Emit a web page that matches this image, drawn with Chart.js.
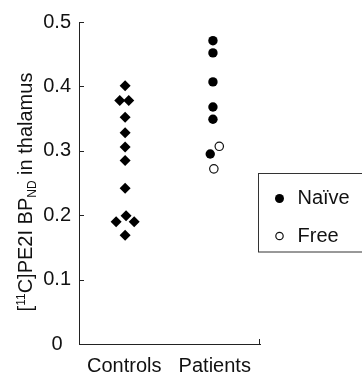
<!DOCTYPE html>
<html>
<head>
<meta charset="utf-8">
<script src="https://cdn.jsdelivr.net/npm/chart.js@4"></script>
<style>
  body { margin: 0; background: #fff; }
  #wrap { width: 362px; height: 375px; }
</style>
</head>
<body>
<div id="wrap"><canvas id="myChart"></canvas></div>
<script>
// groups on the x axis (centres at 0.5 and 1.5)
var categories = ['Controls', 'Patients'];
var categoryPos = [0.5, 1.5];

// controls, x is group position plus the small sideways offset seen in the figure
var controlsX = [0.51, 0.45, 0.55, 0.51, 0.51, 0.51, 0.51, 0.51, 0.52, 0.41, 0.61, 0.51];
var controlsY = [0.401, 0.378, 0.378, 0.352, 0.328, 0.306, 0.285, 0.242, 0.199, 0.19, 0.19, 0.169];

// patients, naive (filled) and free (open)
var naiveX = [1.48, 1.48, 1.48, 1.48, 1.48, 1.45];
var naiveY = [0.471, 0.452, 0.407, 0.368, 0.349, 0.295];
var freeX = [1.55, 1.49];
var freeY = [0.307, 0.272];

var yTicks = [0, 0.1, 0.2, 0.3, 0.4, 0.5];
var yTickLabels = ['0', '0.1', '0.2', '0.3', '0.4', '0.5'];

function pts(xs, ys) {
  return xs.map(function (x, i) { return { x: x, y: ys[i] }; });
}

var FONT = 'Liberation Sans';

// small ticks pointing into the plot, plus the tick at the end of the x axis
var innerTicks = {
  id: 'innerTicks',
  afterDraw: function (chart) {
    var ctx = chart.ctx, y = chart.scales.y, x = chart.scales.x;
    ctx.save();
    ctx.strokeStyle = '#222';
    ctx.lineWidth = 1;
    ctx.beginPath();
    y.ticks.forEach(function (t) {
      if (t.value === 0) return;
      var py = Math.round(y.getPixelForValue(t.value)) + 0.5;
      ctx.moveTo(x.left, py);
      ctx.lineTo(x.left + 5, py);
    });
    var px = Math.round(x.right) - 0.5;
    ctx.moveTo(px, y.bottom);
    ctx.lineTo(px, y.bottom - 5);
    ctx.stroke();
    ctx.restore();
  }
};

// y axis title with super- and subscript
var yTitle = {
  id: 'yTitle',
  afterDraw: function (chart) {
    var ctx = chart.ctx;
    var parts = [
      { t: '[', s: 20, dy: 0 },
      { t: '11', s: 12, dy: -7 },
      { t: 'C]PE2I BP', s: 20, dy: 0 },
      { t: 'ND', s: 12, dy: 4 },
      { t: ' in thalamus', s: 20, dy: 0 }
    ];
    ctx.save();
    var total = 0;
    parts.forEach(function (p) {
      ctx.font = p.s + 'px "' + FONT + '"';
      p.w = ctx.measureText(p.t).width;
      total += p.w;
    });
    var cy = (chart.chartArea.top + chart.chartArea.bottom) / 2 + 9;
    ctx.translate(32, cy + total / 2);
    ctx.rotate(-Math.PI / 2);
    ctx.fillStyle = '#111';
    ctx.textBaseline = 'alphabetic';
    var pos = 0;
    parts.forEach(function (p) {
      ctx.font = p.s + 'px "' + FONT + '"';
      ctx.fillText(p.t, pos, p.dy);
      pos += p.w;
    });
    ctx.restore();
  }
};

// boxed legend to the right of the plot
var legendBox = {
  id: 'legendBox',
  afterDraw: function (chart) {
    var ctx = chart.ctx;
    var left = Math.round(chart.chartArea.right) - 1.5;
    var top = 173.5;
    ctx.save();
    ctx.strokeStyle = '#333';
    ctx.lineWidth = 1;
    ctx.strokeRect(left, top, 140, 78.5);
    ctx.font = '20px "' + FONT + '"';
    ctx.fillStyle = '#111';
    ctx.textBaseline = 'middle';
    var items = chart.data.datasets.filter(function (d) { return d.inLegend; });
    items.forEach(function (d, i) {
      var cy = top + 25 + i * 37.5;
      ctx.fillStyle = d.backgroundColor;
      ctx.strokeStyle = d.borderColor;
      ctx.lineWidth = d.borderWidth;
      Chart.helpers.drawPoint(ctx, { pointStyle: 'circle', radius: d.legendRadius, rotation: 0, borderWidth: d.borderWidth }, left + 21, cy);
      ctx.fillStyle = '#111';
      ctx.fillText(d.label, left + 39, cy);
    });
    ctx.restore();
  }
};

var ctx = document.getElementById('myChart').getContext('2d');
var chart = new Chart(ctx, {
  type: 'scatter',
  data: {
    datasets: [
      {
        label: 'Controls',
        data: pts(controlsX, controlsY),
        pointStyle: 'rectRot',
        pointRadius: 5.5,
        backgroundColor: '#000',
        borderColor: '#000',
        borderWidth: 0
      },
      {
        label: 'Naïve',
        inLegend: true,
        legendRadius: 4.5,
        data: pts(naiveX, naiveY),
        pointStyle: 'circle',
        pointRadius: 4.7,
        backgroundColor: '#000',
        borderColor: '#000',
        borderWidth: 0
      },
      {
        label: 'Free',
        inLegend: true,
        legendRadius: 3.7,
        data: pts(freeX, freeY),
        pointStyle: 'circle',
        pointRadius: 4.2,
        backgroundColor: '#fff',
        borderColor: '#111',
        borderWidth: 1.2
      }
    ]
  },
  options: {
    responsive: true,
    maintainAspectRatio: false,
    animation: false,
    layout: { padding: { top: 22, right: 102, left: 0, bottom: 0 } },
    plugins: {
      legend: { display: false },
      tooltip: { enabled: false }
    },
    scales: {
      x: {
        type: 'linear',
        min: 0,
        max: 2,
        afterBuildTicks: function (scale) {
          scale.ticks = categoryPos.map(function (v) { return { value: v }; });
        },
        afterFit: function (scale) { scale.height = 31; },
        grid: { drawOnChartArea: false, drawTicks: false },
        border: { display: true, color: '#222', width: 1 },
        ticks: {
          padding: 10,
          maxRotation: 0,
          color: '#111',
          font: { family: FONT, size: 20 },
          callback: function (v, i) { return categories[i]; }
        }
      },
      y: {
        min: 0,
        max: 0.5,
        afterBuildTicks: function (scale) {
          scale.ticks = yTicks.map(function (v) { return { value: v }; });
        },
        afterFit: function (scale) { scale.width = 79; },
        grid: { drawOnChartArea: false, drawTicks: false },
        border: { display: true, color: '#222', width: 1 },
        ticks: {
          padding: 8,
          crossAlign: 'center',
          color: '#111',
          font: { family: FONT, size: 20 },
          callback: function (v, i) { return yTickLabels[i]; }
        }
      }
    }
  },
  plugins: [innerTicks, yTitle, legendBox]
});
</script>
</body>
</html>
